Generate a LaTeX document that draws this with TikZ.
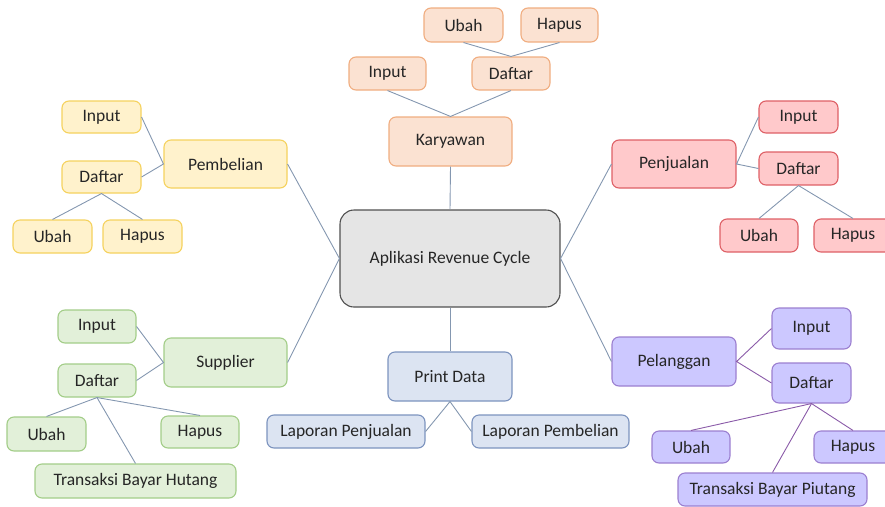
\documentclass[tikz,border=0pt]{standalone}
\usepackage{fontspec}
\setmainfont{Carlito}
\definecolor{linkc}{HTML}{8497B0}
\definecolor{linkp}{HTML}{8A5AA8}
\definecolor{karyf}{HTML}{FBE2D2}\definecolor{karyd}{HTML}{F0AD80}
\definecolor{belif}{HTML}{FFF2CC}\definecolor{belid}{HTML}{F5D25E}
\definecolor{jualf}{HTML}{FFC9CB}\definecolor{juald}{HTML}{DE6066}
\definecolor{suppf}{HTML}{E2F0D9}\definecolor{suppd}{HTML}{A3CD88}
\definecolor{pelf}{HTML}{CCC8FF}\definecolor{peld}{HTML}{9B7FD0}
\definecolor{prnf}{HTML}{DCE4F2}\definecolor{prnd}{HTML}{7C93BE}
\definecolor{appf}{HTML}{E5E5E5}\definecolor{appd}{HTML}{505050}
\begin{document}
\begin{tikzpicture}[x=1pt,y=-1pt,
	box/.style={draw,rounded corners=7pt,line width=1.1pt,inner sep=0pt,text=black!85,
		font=\fontsize{17.5}{21}\selectfont},
	kary/.style={box,fill=karyf,draw=karyd},
	beli/.style={box,fill=belif,draw=belid},
	jual/.style={box,fill=jualf,draw=juald},
	supp/.style={box,fill=suppf,draw=suppd},
	pel/.style={box,fill=pelf,draw=peld},
	prn/.style={box,fill=prnf,draw=prnd},
	link/.style={draw=linkc,line width=0.9pt},
	linkpel/.style={draw=linkp,line width=0.9pt}]
\useasboundingbox (0,0) rectangle (885,506);
% center
\node[box,fill=appf,draw=appd,rounded corners=14pt,minimum width=220pt,minimum height=97pt] (app) at (450,258.5){Aplikasi Revenue Cycle};
% karyawan
\node[kary,minimum width=79pt,minimum height=34pt] (kUbah) at (463.5,25){Ubah};
\node[kary,minimum width=77pt,minimum height=34pt] (kHapus) at (559.5,25){Hapus};
\node[kary,minimum width=77pt,minimum height=33pt] (kInput) at (387.5,73.5){Input};
\node[kary,minimum width=78pt,minimum height=33pt] (kDaftar) at (511,73.5){Daftar};
\node[kary,minimum width=123pt,minimum height=49pt] (kary) at (450.5,141.5){Karyawan};
% pembelian
\node[beli,minimum width=79pt,minimum height=32pt] (bInput) at (101.5,117){Input};
\node[beli,minimum width=123pt,minimum height=48pt] (beli) at (225.5,164){Pembelian};
\node[beli,minimum width=79pt,minimum height=32pt] (bDaftar) at (101.5,177){Daftar};
\node[beli,minimum width=79pt,minimum height=33pt] (bUbah) at (52.5,236.5){Ubah};
\node[beli,minimum width=79pt,minimum height=33pt] (bHapus) at (142.5,236.5){Hapus};
% penjualan
\node[jual,minimum width=79pt,minimum height=32pt] (jInput) at (798.5,117){Input};
\node[jual,minimum width=124pt,minimum height=48pt] (jual) at (674,164){Penjualan};
\node[jual,minimum width=79pt,minimum height=33pt] (jDaftar) at (798.5,168.5){Daftar};
\node[jual,minimum width=78pt,minimum height=33pt] (jUbah) at (759,235.5){Ubah};
\node[jual,minimum width=78pt,minimum height=33pt] (jHapus) at (853,235.5){Hapus};
% supplier
\node[supp,minimum width=78pt,minimum height=33pt] (sInput) at (97,326.5){Input};
\node[supp,minimum width=123pt,minimum height=49pt] (supp) at (225.5,362.5){Supplier};
\node[supp,minimum width=78pt,minimum height=33pt] (sDaftar) at (97,380.5){Daftar};
\node[supp,minimum width=79pt,minimum height=34pt] (sUbah) at (46.5,434){Ubah};
\node[supp,minimum width=78pt,minimum height=32pt] (sHapus) at (200,432){Hapus};
\node[supp,minimum width=201pt,minimum height=34pt] (sHutang) at (135.5,481){Transaksi Bayar Hutang};
% pelanggan
\node[pel,minimum width=79pt,minimum height=41pt] (pInput) at (811.5,328.5){Input};
\node[pel,minimum width=124pt,minimum height=49pt] (pel) at (674,361.5){Pelanggan};
\node[pel,minimum width=79pt,minimum height=40pt] (pDaftar) at (811.5,383){Daftar};
\node[pel,minimum width=78pt,minimum height=32pt] (pUbah) at (691,447){Ubah};
\node[pel,minimum width=78pt,minimum height=32pt] (pHapus) at (853,447){Hapus};
\node[pel,minimum width=189pt,minimum height=33pt] (pPiutang) at (772.5,489.5){Transaksi Bayar Piutang};
% print
\node[prn,minimum width=124pt,minimum height=49pt] (prn) at (450,376.5){Print Data};
\node[prn,minimum width=158pt,minimum height=33pt] (lapJual) at (346,431.5){Laporan Penjualan};
\node[prn,minimum width=157pt,minimum height=33pt] (lapBeli) at (550.5,431.5){Laporan Pembelian};
% links
\draw[link] (kUbah.south)--(kDaftar.north)--(kHapus.south);
\draw[link] (kInput.south)--(kary.north)--(kDaftar.south);
\draw[link] (kary.south)--(app.north);
\draw[link] (app.south)--(prn.north);
\draw[link] (lapJual.east)--(prn.south)--(lapBeli.west);
\draw[link] (bInput.east)--(beli.west)--(bDaftar.east);
\draw[link] (bUbah.north)--(bDaftar.south)--(bHapus.north);
\draw[link] (beli.east)--(app.west)--(supp.east);
\draw[link] (sInput.east)--(supp.west)--(sDaftar.east);
\draw[link] (sUbah.north)--(sDaftar.south)--(sHapus.north);
\draw[link] (sDaftar.south)--(sHutang.north);
\draw[link] (jual.west)--(app.east)--(pel.west);
\draw[link] (jInput.west)--(jual.east)--(jDaftar.west);
\draw[link] (jUbah.north)--(jDaftar.south)--(jHapus.north);
\draw[linkpel] (pInput.west)--(pel.east)--(pDaftar.west);
\draw[linkpel] (pUbah.north)--(pDaftar.south)--(pHapus.north);
\draw[linkpel] (pDaftar.south)--(pPiutang.north);
\end{tikzpicture}
\end{document}
